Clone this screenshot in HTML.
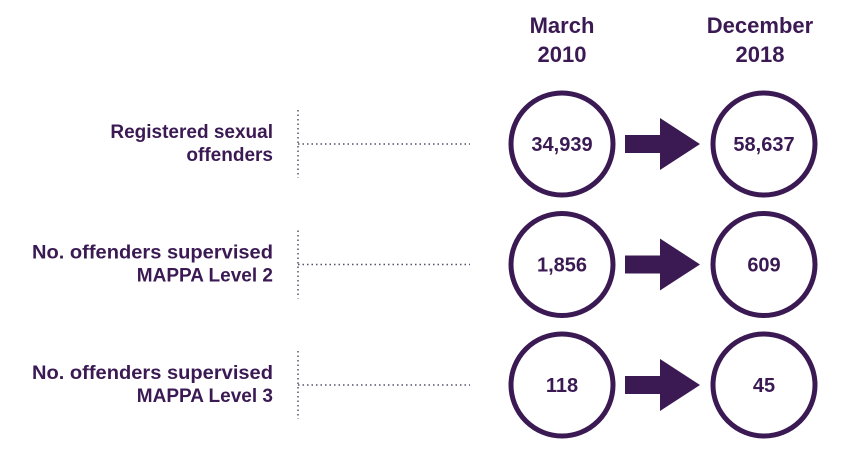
<!DOCTYPE html>
<html><head><meta charset="utf-8"><style>
html,body{margin:0;padding:0;background:#fff;}
svg{display:block;font-family:"Liberation Sans",Arial,sans-serif;font-weight:bold;}
</style></head><body>
<svg id="chart" width="850" height="461" viewBox="0 0 850 461">
<text x="562" y="33" text-anchor="middle" font-size="22" fill="#3b1a54">March</text>
<text x="562" y="62" text-anchor="middle" font-size="22" fill="#3b1a54">2010</text>
<text x="760" y="33" text-anchor="middle" font-size="22" fill="#3b1a54">December</text>
<text x="760" y="62" text-anchor="middle" font-size="22" fill="#3b1a54">2018</text>
<g id="rows"></g>
</svg>
<script>
const labelLine1 = ["Registered sexual", "No. offenders supervised", "No. offenders supervised"];
const labelLine2 = ["offenders", "MAPPA Level 2", "MAPPA Level 3"];
const values2010 = ["34,939", "1,856", "118"];
const values2018 = ["58,637", "609", "45"];
const rowNames = ["registered-sexual-offenders", "mappa-level-2", "mappa-level-3"];

const NS = "http://www.w3.org/2000/svg";
const C = "#3b1a54";
const rowY = i => 144 + i * 120.5;
const g = document.getElementById("rows");
function mk(tag, attrs, parent) {
  const e = document.createElementNS(NS, tag);
  for (const k in attrs) e.setAttribute(k, attrs[k]);
  parent.appendChild(e);
  return e;
}
labelLine1.forEach((l1, i) => {
  const y = rowY(i);
  const row = mk("g", {}, g);
  
  
  const t1 = mk("text", {x: 273, y: y - 6, "text-anchor": "end", "font-size": 19, fill: C}, row);
  t1.textContent = l1;
  if (l1.length > 20) { t1.setAttribute("textLength", 241); t1.setAttribute("lengthAdjust", "spacingAndGlyphs"); }
  
  
  const t2 = mk("text", {x: 273, y: y + 17, "text-anchor": "end", "font-size": 19, fill: C}, row);
  t2.textContent = labelLine2[i];
  
  
  const vl = mk("line", {x1: 298, x2: 298, y1: y - 34, y2: y + 34, stroke: "#55506a", "stroke-width": 1.5, "stroke-dasharray": "1.5 3"}, row);
  
  
  const hl = mk("line", {x1: 298, x2: 470, y1: y, y2: y, stroke: "#55506a", "stroke-width": 1.5, "stroke-dasharray": "1.5 3"}, row);
  
  
  [[562, values2010[i], 'value-2010'], [764, values2018[i], 'value-2018']].forEach(([cx, v, nm]) => {
    const c = mk("circle", {cx: cx, cy: y, r: 51, fill: "#fff", stroke: C, "stroke-width": 5}, row);
    
    
    const t = mk("text", {x: cx, y: y + 7, "text-anchor": "middle", "font-size": 20, fill: C}, row);
    t.textContent = v;
    
    
  });
  const a = mk("polygon", {points: `625,${y-9} 660,${y-9} 660,${y-26} 700,${y} 660,${y+26} 660,${y+9} 625,${y+9}`, fill: C}, row);
  
  
});
</script>
</body></html>
